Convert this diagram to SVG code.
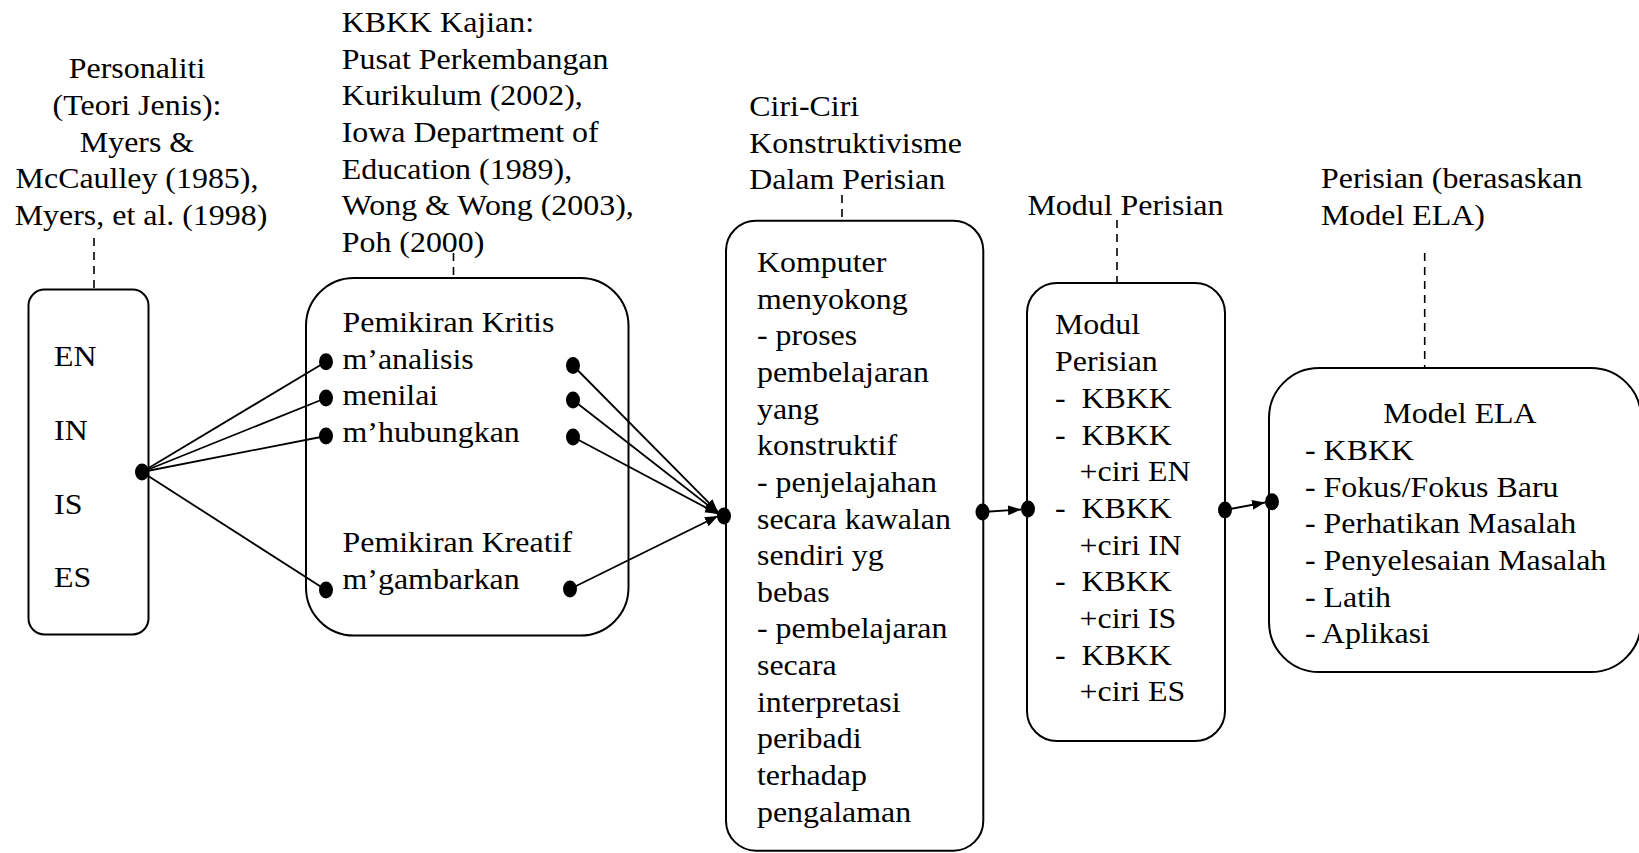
<svg xmlns="http://www.w3.org/2000/svg" width="1639" height="853" viewBox="0 0 1639 853">
<style>
text { font-family: "Liberation Serif", "Times New Roman", serif; font-size: 28.5px; fill: #000; }
.box { fill: #fff; stroke: #000; stroke-width: 2; }
.dash { stroke: #000; stroke-width: 1.6; stroke-dasharray: 8 6; fill: none; }
.con { stroke: #000; stroke-width: 1.8; fill: none; }
.arr { stroke: #000; stroke-width: 1.8; fill: none; marker-end: url(#ah); }
.dot { fill: #000; }
</style>
<defs>
<marker id="ah" markerUnits="userSpaceOnUse" markerWidth="14" markerHeight="11" refX="13" refY="5" orient="auto">
<path d="M0,0 L13,5 L0,10 z" fill="#000"/>
</marker>
</defs>
<rect width="1639" height="853" fill="#fff"/>

<g id="label-personaliti">
<text transform="translate(141 0) scale(1.12 1)" text-anchor="middle">
<tspan x="0" y="78.3">Personaliti</tspan>
<tspan x="0" y="115">(Teori Jenis):</tspan>
<tspan x="0" y="151.7">Myers &amp;</tspan>
<tspan x="0" y="188.3">McCaulley (1985),</tspan>
<tspan x="0" y="225">Myers, et al. (1998)</tspan>
</text>
<line class="dash" x1="94" y1="238" x2="94" y2="289"/>
</g>

<g id="label-kbkk">
<text transform="translate(341.7 0) scale(1.12 1)">
<tspan x="0" y="32.3">KBKK Kajian:</tspan>
<tspan x="0" y="68.9">Pusat Perkembangan</tspan>
<tspan x="0" y="105.5">Kurikulum (2002),</tspan>
<tspan x="0" y="142.1">Iowa Department of</tspan>
<tspan x="0" y="178.7">Education (1989),</tspan>
<tspan x="0" y="215.3">Wong &amp; Wong (2003),</tspan>
<tspan x="0" y="251.9">Poh (2000)</tspan>
</text>
<line class="dash" x1="453.5" y1="253" x2="453.5" y2="278"/>
</g>

<g id="label-ciri">
<text transform="translate(749.3 0) scale(1.12 1)">
<tspan x="0" y="116">Ciri-Ciri</tspan>
<tspan x="0" y="152.7">Konstruktivisme</tspan>
<tspan x="0" y="189.3">Dalam Perisian</tspan>
</text>
<line class="dash" x1="842" y1="195" x2="842" y2="220"/>
</g>

<g id="label-modul">
<text transform="translate(1027.5 0) scale(1.12 1)"><tspan x="0" y="215">Modul Perisian</tspan></text>
<line class="dash" x1="1117" y1="220" x2="1117" y2="283"/>
</g>

<g id="label-ela">
<text transform="translate(1321 0) scale(1.12 1)">
<tspan x="0" y="188.5">Perisian (berasaskan</tspan>
<tspan x="0" y="225">Model ELA)</tspan>
</text>
<line class="dash" x1="1424.7" y1="253" x2="1424.7" y2="368"/>
</g>

<g id="node-personaliti">
<rect class="box" x="28.5" y="289.5" width="120" height="345" rx="16" ry="16"/>
<text transform="translate(54 0) scale(1.12 1)">
<tspan x="0" y="366">EN</tspan>
<tspan x="0" y="440">IN</tspan>
<tspan x="0" y="514">IS</tspan>
<tspan x="0" y="587.5">ES</tspan>
</text>
</g>

<g id="node-pemikiran">
<rect class="box" x="306" y="278" width="322.5" height="357.5" rx="48" ry="48"/>
<text transform="translate(342.5 0) scale(1.12 1)">
<tspan x="0" y="332">Pemikiran Kritis</tspan>
<tspan x="0" y="368.7">m’analisis</tspan>
<tspan x="0" y="405.4">menilai</tspan>
<tspan x="0" y="442.1">m’hubungkan</tspan>
<tspan x="0" y="552.2">Pemikiran Kreatif</tspan>
<tspan x="0" y="588.9">m’gambarkan</tspan>
</text>
</g>

<g id="node-ciri">
<rect class="box" x="726" y="220.7" width="257.3" height="630" rx="30" ry="30"/>
<text transform="translate(757 0) scale(1.12 1)">
<tspan x="0" y="272">Komputer</tspan>
<tspan x="0" y="308.65">menyokong</tspan>
<tspan x="0" y="345.3">- proses</tspan>
<tspan x="0" y="381.95">pembelajaran</tspan>
<tspan x="0" y="418.6">yang</tspan>
<tspan x="0" y="455.25">konstruktif</tspan>
<tspan x="0" y="491.9">- penjelajahan</tspan>
<tspan x="0" y="528.55">secara kawalan</tspan>
<tspan x="0" y="565.2">sendiri yg</tspan>
<tspan x="0" y="601.85">bebas</tspan>
<tspan x="0" y="638.5">- pembelajaran</tspan>
<tspan x="0" y="675.15">secara</tspan>
<tspan x="0" y="711.8">interpretasi</tspan>
<tspan x="0" y="748.45">peribadi</tspan>
<tspan x="0" y="785.1">terhadap</tspan>
<tspan x="0" y="821.75">pengalaman</tspan>
</text>
</g>

<g id="node-modul">
<rect class="box" x="1027" y="283" width="198" height="458" rx="30" ry="30"/>
<text transform="translate(1055 0) scale(1.12 1)">
<tspan x="0" y="334.5">Modul</tspan>
<tspan x="0" y="371.2">Perisian</tspan>
<tspan x="0" y="407.9">-</tspan>
<tspan x="0" y="444.6">-</tspan>
<tspan x="0" y="518">-</tspan>
<tspan x="0" y="591.4">-</tspan>
<tspan x="0" y="664.8">-</tspan>
</text>
<text transform="translate(1081.5 0) scale(1.12 1)">
<tspan x="0" y="407.9">KBKK</tspan>
<tspan x="0" y="444.6">KBKK</tspan>
<tspan x="-1.8" y="481.3">+ciri EN</tspan>
<tspan x="0" y="518">KBKK</tspan>
<tspan x="-1.8" y="554.7">+ciri IN</tspan>
<tspan x="0" y="591.4">KBKK</tspan>
<tspan x="-1.8" y="628.1">+ciri IS</tspan>
<tspan x="0" y="664.8">KBKK</tspan>
<tspan x="-1.8" y="701.5">+ciri ES</tspan>
</text>
</g>

<g id="node-ela">
<rect class="box" x="1269" y="368" width="372" height="304" rx="50" ry="50"/>
<text transform="translate(1460 0) scale(1.12 1)" text-anchor="middle"><tspan x="0" y="423.3">Model ELA</tspan></text>
<text transform="translate(1305 0) scale(1.12 1)">
<tspan x="0" y="460">- KBKK</tspan>
<tspan x="0" y="496.7">- Fokus/Fokus Baru</tspan>
<tspan x="0" y="533.3">- Perhatikan Masalah</tspan>
<tspan x="0" y="570">- Penyelesaian Masalah</tspan>
<tspan x="0" y="606.7">- Latih</tspan>
<tspan x="0" y="643.3">- Aplikasi</tspan>
</text>
</g>

<g id="connectors">
<line class="con" x1="142" y1="472" x2="326" y2="361.7"/>
<line class="con" x1="142" y1="472" x2="326" y2="398"/>
<line class="con" x1="142" y1="472" x2="326" y2="436"/>
<line class="con" x1="142" y1="472" x2="326" y2="590"/>
<line class="arr" x1="573" y1="365.5" x2="718" y2="512"/>
<line class="arr" x1="573" y1="400" x2="718" y2="513"/>
<line class="arr" x1="573" y1="437" x2="718" y2="514"/>
<line class="arr" x1="570" y1="589" x2="718" y2="516"/>
<line class="arr" x1="982.5" y1="512" x2="1021" y2="509.5"/>
<line class="arr" x1="1225" y1="510" x2="1265" y2="502.5"/>
<ellipse class="dot" cx="142" cy="472" rx="7" ry="8.5"/>
<ellipse class="dot" cx="326" cy="361.7" rx="7" ry="8.5"/>
<ellipse class="dot" cx="326" cy="398" rx="7" ry="8.5"/>
<ellipse class="dot" cx="326" cy="436" rx="7" ry="8.5"/>
<ellipse class="dot" cx="326" cy="590" rx="7" ry="8.5"/>
<ellipse class="dot" cx="573" cy="365.5" rx="7" ry="8.5"/>
<ellipse class="dot" cx="573" cy="400" rx="7" ry="8.5"/>
<ellipse class="dot" cx="573" cy="437" rx="7" ry="8.5"/>
<ellipse class="dot" cx="570" cy="589" rx="7" ry="8.5"/>
<ellipse class="dot" cx="724" cy="516" rx="7" ry="8.5"/>
<ellipse class="dot" cx="982.5" cy="512" rx="7" ry="8.5"/>
<ellipse class="dot" cx="1028" cy="509" rx="7" ry="8.5"/>
<ellipse class="dot" cx="1225" cy="510" rx="7" ry="8.5"/>
<ellipse class="dot" cx="1272" cy="501.7" rx="7" ry="8.5"/>
</g>
</svg>
